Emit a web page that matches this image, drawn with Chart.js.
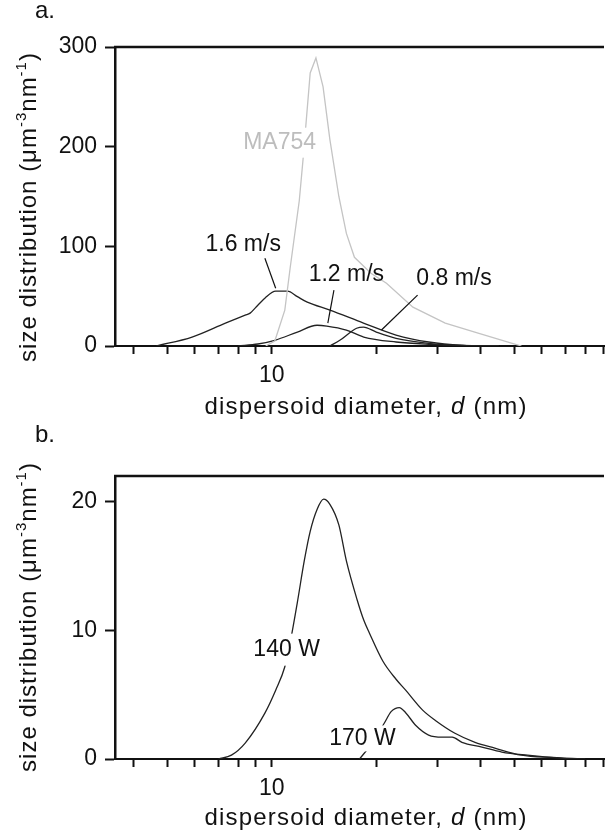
<!DOCTYPE html>
<html>
<head>
<meta charset="utf-8">
<script src="https://cdn.jsdelivr.net/npm/chart.js@4.4.0/dist/chart.umd.min.js"></script>
<style>
  body { margin: 0; background: #fff; }
  .panel { position: absolute; left: 0; width: 611px; }
  #wrapA { top: 0; height: 420px; }
  #wrapB { top: 420px; height: 419px; }
</style>
</head>
<body>
<div class="panel" id="wrapA"><canvas id="chartA" width="611" height="420"></canvas></div>
<div class="panel" id="wrapB"><canvas id="chartB" width="611" height="419"></canvas></div>
<script>
// x axis (dispersoid diameter, nm) - log scale, only 10 is labelled
const xTickValues = [4, 5, 6, 7, 8, 9, 10, 20, 30, 40, 50, 60, 70, 80, 90];
const xTickLabels = [10];

// panel a - size distribution (um^-3 nm^-1)
const ma754D = [9.6, 10.2, 10.9, 11.3, 12.0, 12.3, 12.9, 13.4, 14.05, 14.7, 15.6, 16.4, 17.3, 19.3, 21.4, 25.5, 31.6, 39.3, 49.0, 52.4];
const ma754Y = [0, 5, 36, 79, 146, 187, 274, 289, 260, 207, 150, 113, 89, 73, 63, 39, 23, 13, 3, 0];

const v16D = [4.65, 5.89, 7.35, 8.38, 8.66, 8.95, 9.55, 10.26, 11.1, 11.85, 12.65, 14.71, 18.37, 22.8, 28.3, 35.3, 45];
const v16Y = [0, 9, 23, 31, 33, 38, 48, 55, 55, 49.5, 44, 36, 23, 11, 4, 0.7, 0];

const v12D = [8.0, 9.12, 10.2, 11.85, 13.5, 14.4, 16.4, 18.4, 22.8, 28.3, 35.3, 45];
const v12Y = [0, 2, 5.7, 14, 20.8, 20, 16, 9, 4, 1.7, 0.5, 0];

const v08D = [14.7, 15.7, 17.55, 18.37, 20.0, 22.8, 28.3, 35.3, 45];
const v08Y = [0, 5.7, 17.8, 19, 14, 7.7, 2.7, 0.5, 0];

// panel b
const w140D = [7.02, 7.65, 8.38, 9.55, 10.26, 10.89, 11.32, 11.85, 12.4, 12.9, 13.5, 14.1, 14.7, 15.6, 16.4, 17.6, 18.4, 19.1, 20.9, 22.8, 24.3, 27.2, 29.6, 33.7, 38.5, 43.9, 52.3, 64.9, 74];
const w140Y = [0, 0.3, 1.24, 3.57, 5.35, 7.13, 9.2, 12.2, 15.4, 17.7, 19.4, 20.2, 19.8, 18.2, 15.4, 12.4, 10.8, 9.8, 7.6, 6.2, 5.35, 3.8, 3.0, 2.0, 1.3, 0.85, 0.3, 0.1, 0];

const w170D = [17.9, 19.4, 21.1, 22.1, 23.3, 24.3, 26.0, 28.3, 31.0, 33.1, 35.3, 40.3, 46.0, 54.5, 68.1, 80];
const w170Y = [0, 1.2, 2.8, 3.7, 4.0, 3.6, 2.6, 1.86, 1.7, 1.7, 1.3, 0.93, 0.54, 0.3, 0.08, 0];

const FONT = '"Liberation Sans", Arial, sans-serif';
const INK = '#111';

Chart.defaults.font.family = FONT;
Chart.defaults.font.size = 23;
Chart.defaults.color = INK;

function series(d, v, color, smooth) {
    return {
        data: d.map((x, i) => ({ x: x, y: v[i] })),
        borderColor: color,
        borderWidth: 1.3,
        pointRadius: 0,
        fill: false,
        tension: 0,
        cubicInterpolationMode: smooth ? 'monotone' : 'default'
    };
}

// labels, leader lines, titles and the top frame line
const decor = {
    id: 'decor',
    afterDraw(chart, args, o) {
        const ctx = chart.ctx;
        const area = chart.chartArea;
        const xs = chart.scales.x;
        const ys = chart.scales.y;
        ctx.save();

        ctx.strokeStyle = INK;
        ctx.lineWidth = 2.5;
        ctx.beginPath();
        ctx.moveTo(area.left - 1, area.top);
        ctx.lineTo(area.right, area.top);
        ctx.stroke();

        ctx.font = '23px ' + FONT;
        ctx.textAlign = 'center';
        ctx.textBaseline = 'middle';
        o.notes.forEach(n => {
            const px = xs.getPixelForValue(n.d);
            const py = ys.getPixelForValue(n.v);
            if (n.from) {
                ctx.strokeStyle = INK;
                ctx.lineWidth = 1.2;
                ctx.beginPath();
                ctx.moveTo(xs.getPixelForValue(n.from[0]), ys.getPixelForValue(n.from[1]));
                ctx.lineTo(xs.getPixelForValue(n.to[0]), ys.getPixelForValue(n.to[1]));
                ctx.stroke();
            }
            if (n.box) {
                const w = ctx.measureText(n.text).width;
                ctx.fillStyle = '#fff';
                ctx.fillRect(px - w / 2 - n.box[0], py - 9 - n.box[1], w + 2 * n.box[0], 18 + 2 * n.box[1]);
            }
            ctx.fillStyle = n.color || INK;
            ctx.fillText(n.text, px, py);
        });

        // panel tag
        ctx.fillStyle = INK;
        ctx.textAlign = 'left';
        ctx.textBaseline = 'alphabetic';
        ctx.font = '24px ' + FONT;
        ctx.fillText(o.tag, 35, o.tagY);

        // y title with superscripts
        const yParts = [['size distribution (\u03bcm', 0], ['-3', 1], ['nm', 0], ['-1', 1], [')', 0]];
        ctx.save();
        ctx.translate(36, o.yTitleY);
        ctx.rotate(-Math.PI / 2);
        ctx.letterSpacing = '1px';
        let total = 0;
        const widths = yParts.map(p => {
            ctx.font = (p[1] ? '15px ' : '24px ') + FONT;
            const w = ctx.measureText(p[0]).width;
            total += w;
            return w;
        });
        let cx = -total / 2;
        yParts.forEach((p, i) => {
            ctx.font = (p[1] ? '15px ' : '24px ') + FONT;
            ctx.fillText(p[0], cx, p[1] ? -10 : 0);
            cx += widths[i];
        });
        ctx.restore();

        // x title with italic d
        const xParts = [['dispersoid diameter, ', ''], ['d', 'italic '], [' (nm)', '']];
        ctx.save();
        ctx.letterSpacing = '1.2px';
        total = 0;
        const xw = xParts.map(p => {
            ctx.font = p[1] + '24px ' + FONT;
            const w = ctx.measureText(p[0]).width;
            total += w;
            return w;
        });
        cx = 366 - total / 2;
        xParts.forEach((p, i) => {
            ctx.font = p[1] + '24px ' + FONT;
            ctx.fillText(p[0], cx, o.xTitleY);
            cx += xw[i];
        });
        ctx.restore();

        ctx.restore();
    }
};

function makePanel(canvasId, datasets, yMax, yStep, padTop, xHeight, decorOpts) {
    return new Chart(document.getElementById(canvasId), {
        type: 'line',
        data: { datasets: datasets },
        options: {
            responsive: false,
            animation: false,
            layout: { padding: { top: padTop, right: 0, bottom: 0, left: 0 } },
            plugins: {
                legend: { display: false },
                tooltip: { enabled: false },
                decor: decorOpts
            },
            scales: {
                x: {
                    type: 'logarithmic',
                    min: 3.533,
                    max: 90.6,
                    afterBuildTicks: (scale) => { scale.ticks = xTickValues.map(v => ({ value: v })); },
                    afterFit: (scale) => { scale.height = xHeight; },
                    border: { display: true, color: INK, width: 2 },
                    grid: { display: true, drawOnChartArea: false, drawTicks: true, tickLength: 8, tickWidth: 2, tickColor: INK },
                    ticks: {
                        autoSkip: false,
                        maxRotation: 0,
                        padding: 8,
                        callback: (v) => xTickLabels.includes(v) ? String(v) : ''
                    }
                },
                y: {
                    type: 'linear',
                    min: 0,
                    max: yMax,
                    afterFit: (scale) => { scale.width = 115; },
                    border: { display: true, color: INK, width: 2.5 },
                    grid: { display: true, drawOnChartArea: false, drawTicks: true, tickLength: 10, tickWidth: 2, tickColor: INK },
                    ticks: { stepSize: yStep, includeBounds: false, padding: 8 }
                }
            }
        },
        plugins: [decor]
    });
}

makePanel('chartA', [
    series(ma754D, ma754Y, '#c4c4c4', false),
    series(v16D, v16Y, '#222', true),
    series(v12D, v12Y, '#222', true),
    series(v08D, v08Y, '#222', true)
], 300, 100, 47, 74, {
    tag: 'a.', tagY: 18, yTitleY: 207, xTitleY: 414,
    notes: [
        { text: 'MA754', d: 10.53, v: 204, color: '#bdbdbd', box: [3, 6] },
        { text: '1.6 m/s', d: 8.27, v: 102, from: [9.55, 88], to: [10.26, 58] },
        { text: '1.2 m/s', d: 16.4, v: 72, from: [15.1, 56], to: [14.5, 23] },
        { text: '0.8 m/s', d: 33.5, v: 68, from: [26.3, 51], to: [20.7, 16] }
    ]
});

makePanel('chartB', [
    series(w140D, w140Y, '#222', true),
    series(w170D, w170Y, '#222', true)
], 22, 10, 56, 80, {
    tag: 'b.', tagY: 22, yTitleY: 197, xTitleY: 405,
    notes: [
        { text: '140 W', d: 11.03, v: 8.5, box: [3, 7] },
        { text: '170 W', d: 18.25, v: 1.6, box: [3, 4] }
    ]
});
</script>
</body>
</html>
